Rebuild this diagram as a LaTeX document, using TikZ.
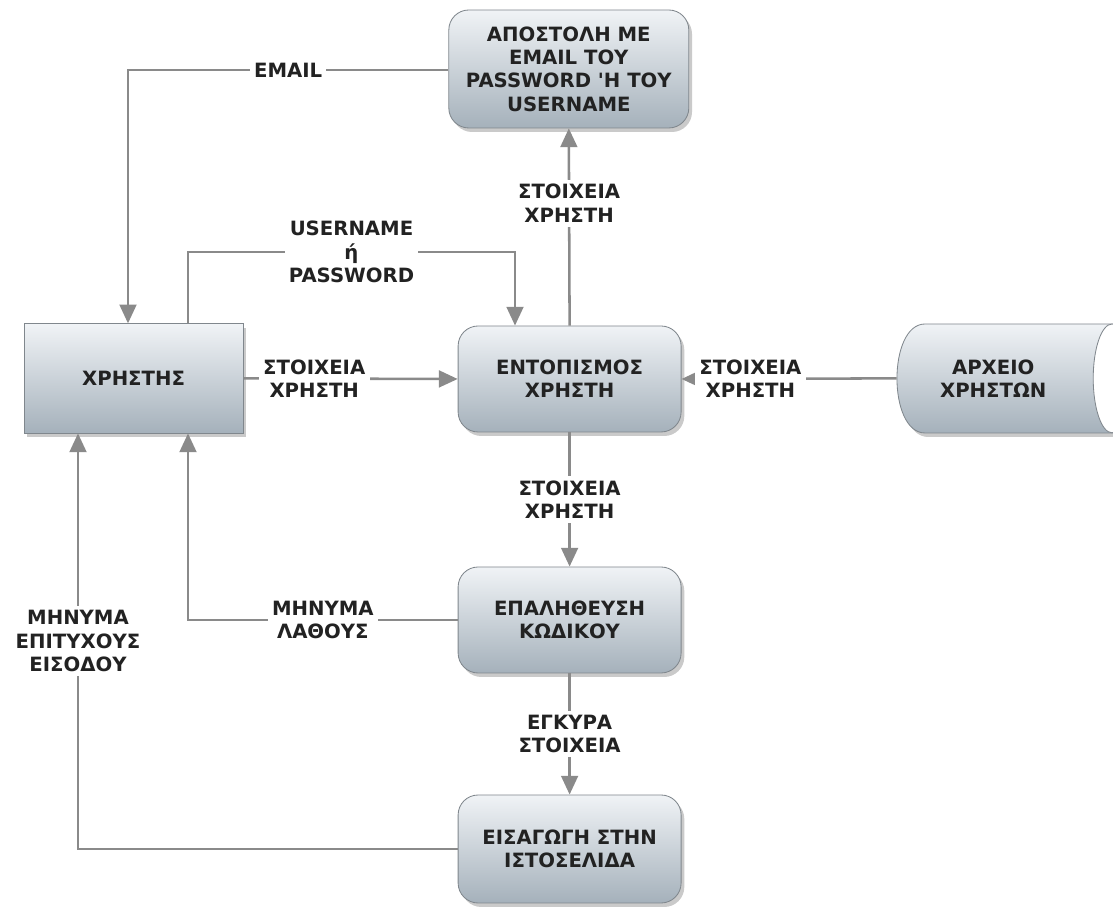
\documentclass[tikz,border=0pt]{standalone}
\usepackage{fontspec}
\setmainfont{DejaVu Sans}
\usepackage{tikz}
\usetikzlibrary{arrows.meta,shadows}
\definecolor{boxtop}{HTML}{F0F3F6}
\definecolor{boxbot}{HTML}{A5B1BB}
\definecolor{boxline}{HTML}{80878D}
\definecolor{linegray}{HTML}{8A8A8A}
\definecolor{txt}{HTML}{222222}
\tikzstyle{txtfont}=[font=\fontsize{14}{16.6}\selectfont\bfseries, text=txt]
\tikzstyle{shad}=[drop shadow={shadow xshift=0.08cm,shadow yshift=-0.1cm,opacity=0.35,fill=black!60}]
\tikzstyle{proc}=[draw=boxline,line width=0.6pt,rounded corners=0.5cm,top color=boxtop,bottom color=boxbot,shad,txtfont,align=center,minimum width=5.575cm,minimum height=2.65cm]
\tikzstyle{ext}=[draw=boxline,line width=0.6pt,top color=boxtop,bottom color=boxbot,shad,txtfont,align=center,minimum width=5.48cm,minimum height=2.73cm]
\tikzstyle{lbl}=[fill=white,txtfont,align=center,inner sep=3pt]
\tikzstyle{flow}=[draw=linegray,line width=1.8pt,-{Triangle[length=0.47cm,width=0.42cm]}]

\begin{document}
\begin{tikzpicture}
	\useasboundingbox (0,0) rectangle (27.825,22.7);

	% data store
	\path[draw=boxline,line width=0.6pt,top color=boxtop,bottom color=boxbot,shad]
		(23.125,14.6) -- (28.6,14.6) -- (28.6,11.875) -- (23.125,11.875)
		.. controls (22.19,11.875) and (22.19,14.6) .. (23.125,14.6) -- cycle;
	\draw[draw=boxline,line width=0.6pt,fill=white] (27.8,13.24) ellipse [x radius=0.47cm,y radius=1.36cm];

	\node[proc,minimum width=6.0cm,minimum height=2.95cm] (apostoli) at (14.22,20.975) {ΑΠΟΣΤΟΛΗ ΜΕ\\EMAIL ΤΟΥ\\PASSWORD \textquotesingle Η ΤΟΥ\\USERNAME};
	\node[ext] (xristis) at (3.34,13.24) {ΧΡΗΣΤΗΣ};
	\node[proc] (entopismos) at (14.24,13.225) {ΕΝΤΟΠΙΣΜΟΣ\\ΧΡΗΣΤΗ};
	\node[txtfont,align=center,minimum width=4.81cm,minimum height=2.73cm] (arxeio) at (24.83,13.24) {ΑΡΧΕΙΟ\\ΧΡΗΣΤΩΝ};
	\node[proc] (epalitheusi) at (14.24,7.2) {ΕΠΑΛΗΘΕΥΣΗ\\ΚΩΔΙΚΟΥ};
	\node[proc,minimum height=2.7cm] (eisagogi) at (14.24,1.475) {ΕΙΣΑΓΩΓΗ ΣΤΗΝ\\ΙΣΤΟΣΕΛΙΔΑ};

	\coordinate (emailbend) at (3.2,20.95);
	\coordinate (userA) at (4.7,16.4);
	\coordinate (userB) at (12.875,16.4);
	\coordinate (errbend) at (4.7,7.2);
	\coordinate (okbend) at (1.95,1.475);

	\draw[flow] (apostoli.west |- emailbend) -- node[lbl]{EMAIL} (emailbend) -- (emailbend |- xristis.north);
	\draw[flow] (userA |- xristis.north) -- (userA) -- node[lbl]{USERNAME\\ή\\PASSWORD} (userB) -- (userB |- entopismos.north);
	\draw[flow] (xristis.east) -- node[lbl,pos=0.33]{ΣΤΟΙΧΕΙΑ\\ΧΡΗΣΤΗ} (entopismos.west);
	\draw[flow] (entopismos.north) -- node[lbl,pos=0.62]{ΣΤΟΙΧΕΙΑ\\ΧΡΗΣΤΗ} (apostoli.south);
	\draw[flow] (arxeio.west) -- node[lbl,pos=0.68]{ΣΤΟΙΧΕΙΑ\\ΧΡΗΣΤΗ} (entopismos.east);
	\draw[flow] (entopismos.south) -- node[lbl]{ΣΤΟΙΧΕΙΑ\\ΧΡΗΣΤΗ} (epalitheusi.north);
	\draw[flow] (epalitheusi.west) -- node[lbl]{ΜΗΝΥΜΑ\\ΛΑΘΟΥΣ} (errbend) -- (errbend |- xristis.south);
	\draw[flow] (epalitheusi.south) -- node[lbl]{ΕΓΚΥΡΑ\\ΣΤΟΙΧΕΙΑ} (eisagogi.north);
	\draw[flow] (eisagogi.west) -- (okbend) -- node[lbl]{ΜΗΝΥΜΑ\\ΕΠΙΤΥΧΟΥΣ\\ΕΙΣΟΔΟΥ} (okbend |- xristis.south);

\end{tikzpicture}
\end{document}
